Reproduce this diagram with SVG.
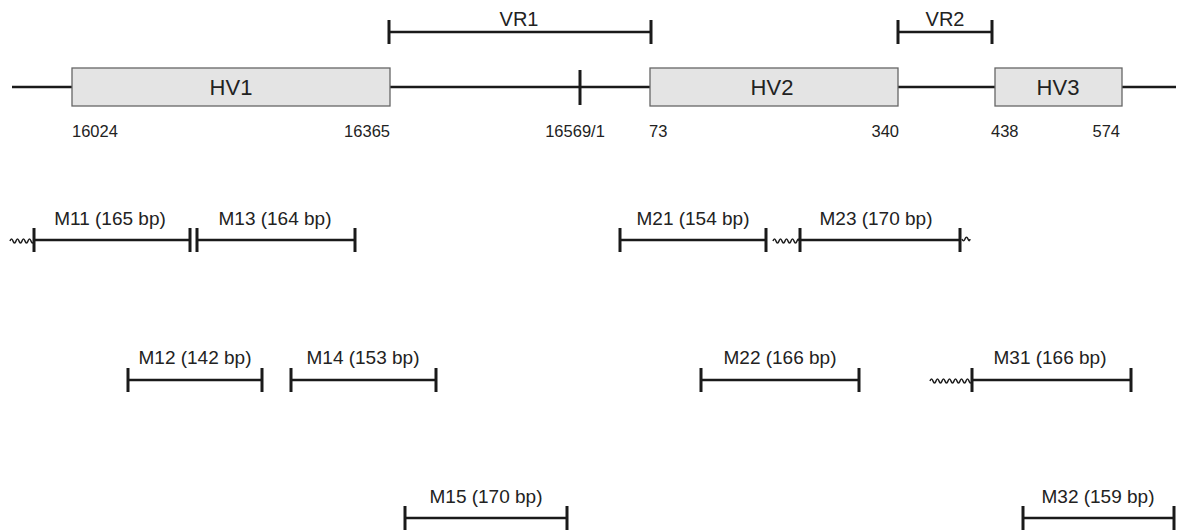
<svg xmlns="http://www.w3.org/2000/svg" width="1190" height="531" viewBox="0 0 1190 531">
<style>
.ln{stroke:#1a1a1a;stroke-width:2.5;fill:none}
.tk{stroke:#1a1a1a;stroke-width:3;fill:none}
.wv{stroke:#222;stroke-width:1.6;fill:none}
.box{fill:#e4e4e4;stroke:#666;stroke-width:1.3}
text{font-family:"Liberation Sans",Arial,sans-serif;fill:#222}
.hv{font-size:22px;text-anchor:middle}
.vr{font-size:20px;text-anchor:middle}
.num{font-size:16.5px}
.lab{font-size:19px;text-anchor:middle}
</style>
<rect width="1190" height="531" fill="#fff"/>
<g id="backbone">
<line class="ln" x1="12" y1="87" x2="1176" y2="87" stroke-width="3"/>
<line class="tk" x1="580" y1="70" x2="580" y2="105" stroke-width="2"/>
</g>
<g id="HV1"><rect class="box" x="72" y="68" width="318" height="38"/><text class="hv" x="231" y="95">HV1</text></g>
<g id="HV2"><rect class="box" x="650" y="68" width="248" height="38"/><text class="hv" x="772" y="95">HV2</text></g>
<g id="HV3"><rect class="box" x="995" y="68" width="127" height="38"/><text class="hv" x="1058" y="95">HV3</text></g>
<g id="positions">
<text class="num" x="72" y="137">16024</text>
<text class="num" x="390" y="137" text-anchor="end">16365</text>
<text class="num" x="575" y="137" text-anchor="middle">16569/1</text>
<text class="num" x="649" y="137">73</text>
<text class="num" x="899" y="137" text-anchor="end">340</text>
<text class="num" x="991" y="137">438</text>
<text class="num" x="1120" y="137" text-anchor="end">574</text>
</g>
<g id="VR1"><path class="tk" d="M389,20V44M651,20V44"/><line class="ln" x1="389" y1="32" x2="651" y2="32"/><text class="vr" x="519" y="26">VR1</text></g>
<g id="VR2"><path class="tk" d="M898,20V44M992,20V44"/><line class="ln" x1="898" y1="32" x2="992" y2="32" stroke-width="2"/><text class="vr" x="945" y="26">VR2</text></g>
<g id="connectors">
<path class="wv" d="M10,241q1.5,-4 3,0t3,0t3,0t3,0t3,0t3,0t3,0t3,0"/>
<path class="wv" d="M773,241q1.5,-4 3,0t3,0t3,0t3,0t3,0t3,0t3,0t3,0t2,0"/>
<path class="wv" d="M962,239q1.5,3.5 3,0t3,0t2,0"/>
<path class="wv" d="M930,381q1.5,-4 3,0t3,0t3,0t3,0t3,0t3,0t3,0t3,0t3,0t3,0t3,0t3,0t3,0t3,0"/>
</g>
<g id="M11"><path class="tk" d="M34,228V252M190,228V252"/><line class="ln" x1="34" y1="240" x2="190" y2="240"/><text class="lab" x="110" y="225">M11 (165 bp)</text></g>
<g id="M13"><path class="tk" d="M197,228V252M355,228V252"/><line class="ln" x1="197" y1="240" x2="355" y2="240"/><text class="lab" x="275" y="225">M13 (164 bp)</text></g>
<g id="M21"><path class="tk" d="M620,228V252M766,228V252"/><line class="ln" x1="620" y1="240" x2="766" y2="240"/><text class="lab" x="693" y="225">M21 (154 bp)</text></g>
<g id="M23"><path class="tk" d="M800,228V252M960,228V252"/><line class="ln" x1="800" y1="240" x2="960" y2="240"/><text class="lab" x="876" y="225">M23 (170 bp)</text></g>
<g id="M12"><path class="tk" d="M128,368V392M262,368V392"/><line class="ln" x1="128" y1="380" x2="262" y2="380"/><text class="lab" x="195" y="364">M12 (142 bp)</text></g>
<g id="M14"><path class="tk" d="M291,368V392M436,368V392"/><line class="ln" x1="291" y1="380" x2="436" y2="380"/><text class="lab" x="363" y="364">M14 (153 bp)</text></g>
<g id="M22"><path class="tk" d="M701,368V392M859,368V392"/><line class="ln" x1="701" y1="380" x2="859" y2="380"/><text class="lab" x="780" y="364">M22 (166 bp)</text></g>
<g id="M31"><path class="tk" d="M972,368V392M1131,368V392"/><line class="ln" x1="972" y1="380" x2="1131" y2="380"/><text class="lab" x="1050" y="364">M31 (166 bp)</text></g>
<g id="M15"><path class="tk" d="M405,506V530M567,506V530"/><line class="ln" x1="405" y1="518" x2="567" y2="518"/><text class="lab" x="486" y="503">M15 (170 bp)</text></g>
<g id="M32"><path class="tk" d="M1023,506V530M1174,506V530"/><line class="ln" x1="1023" y1="518" x2="1174" y2="518"/><text class="lab" x="1098" y="503">M32 (159 bp)</text></g>
</svg>
